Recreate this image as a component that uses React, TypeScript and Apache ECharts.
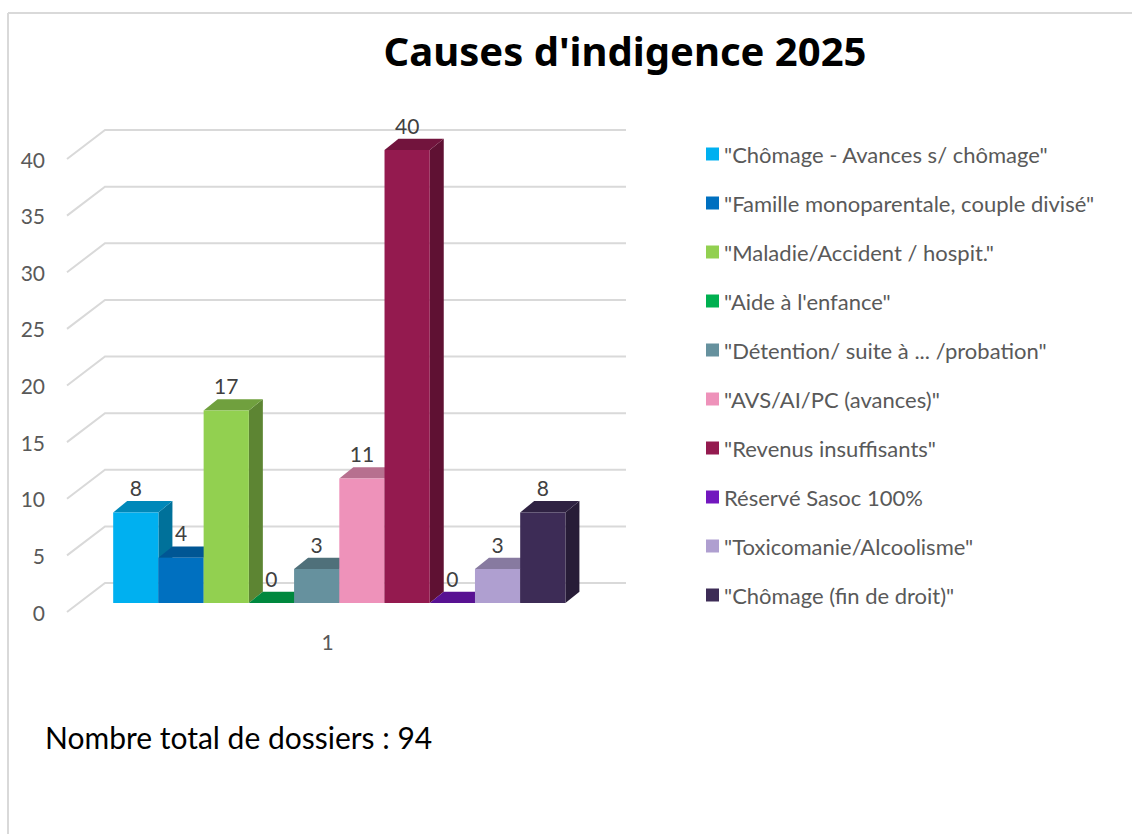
import React, { useEffect, useRef } from "react";
import * as echarts from "echarts";

const categories = ["1"];
const seriesNames = [
  "\"Chômage - Avances s/ chômage\"",
  "\"Famille monoparentale, couple divisé\"",
  "\"Maladie/Accident / hospit.\"",
  "\"Aide à l'enfance\"",
  "\"Détention/ suite à ... /probation\"",
  "\"AVS/AI/PC (avances)\"",
  "\"Revenus insuffisants\"",
  "Réservé Sasoc 100%",
  "\"Toxicomanie/Alcoolisme\"",
  "\"Chômage (fin de droit)\"",
];
const seriesValues = [8, 4, 17, 0, 3, 11, 40, 0, 3, 8];
const seriesColors = [
  "#00B0F0",
  "#0070C0",
  "#92D050",
  "#00B050",
  "#66919E",
  "#EE92BA",
  "#941A4F",
  "#7216BE",
  "#AF9FD0",
  "#3D2C56",
];
const yTicks = [0, 5, 10, 15, 20, 25, 30, 35, 40];
const titleText = "Causes d'indigence 2025";
const totalText = "Nombre total de dossiers : 94";

// 3D geometry (pixels)
const WALL_DX = 38;
const WALL_DY = 29;
const BAR_FX = 11.8;
const BAR_FY = 9;
const BAR_DX = 14;
const BAR_DY = 11.3;
const GROUP_FRAC = 0.868;

function shade(hex: string, k: number): string {
  const n = parseInt(hex.slice(1), 16);
  const r = Math.round(((n >> 16) & 255) * k);
  const g = Math.round(((n >> 8) & 255) * k);
  const b = Math.round((n & 255) * k);
  return "rgb(" + r + "," + g + "," + b + ")";
}

export default function App() {
  const ref = useRef<HTMLDivElement>(null);

  useEffect(() => {
    if (!ref.current) return;
    const chart = echarts.init(ref.current, undefined, { renderer: "svg" });
    const N = seriesValues.length;

    const gridSeries: any = {
      type: "custom",
      name: "__grid",
      silent: true,
      z: 1,
      data: yTicks.map((v) => [0, v]),
      renderItem: (params: any, api: any) => {
        const cs = params.coordSys;
        const y = api.coord([0, api.value(1)])[1];
        return {
          type: "polyline",
          shape: {
            points: [
              [cs.x, y],
              [cs.x + WALL_DX, y - WALL_DY],
              [cs.x + cs.width + WALL_DX, y - WALL_DY],
            ],
          },
          style: { stroke: "#d9d9d9", lineWidth: 2, fill: null },
        };
      },
    };

    const barSeries = seriesNames.map((name, i) => ({
      type: "custom",
      name,
      z: 2 + i,
      itemStyle: { color: seriesColors[i] },
      data: [[0, seriesValues[i]]],
      renderItem: (params: any, api: any) => {
        const v = api.value(1);
        const pTop = api.coord([0, v]);
        const pBase = api.coord([0, 0]);
        const band = api.size([1, 0])[0];
        const groupW = band * GROUP_FRAC;
        const bw = groupW / N;
        const x = pTop[0] - groupW / 2 + i * bw + BAR_FX;
        const yT = pTop[1] - BAR_FY;
        const yB = pBase[1] - BAR_FY;
        const c = seriesColors[i];
        return {
          type: "group",
          children: [
            {
              type: "polygon",
              shape: {
                points: [
                  [x + bw, yB],
                  [x + bw + BAR_DX, yB - BAR_DY],
                  [x + bw + BAR_DX, yT - BAR_DY],
                  [x + bw, yT],
                ],
              },
              style: { fill: shade(c, 0.64) },
            },
            {
              type: "polygon",
              shape: {
                points: [
                  [x, yT],
                  [x + BAR_DX, yT - BAR_DY],
                  [x + bw + BAR_DX, yT - BAR_DY],
                  [x + bw, yT],
                ],
              },
              style: { fill: shade(c, 0.77) },
            },
            {
              type: "rect",
              shape: { x, y: yT, width: bw, height: Math.max(0, yB - yT) },
              style: { fill: c },
            },
            {
              type: "text",
              x: x + bw / 2,
              y: yT - BAR_DY - 3,
              style: {
                text: String(v),
                textAlign: "center",
                textVerticalAlign: "bottom",
                fill: "#404040",
                fontSize: 21,
                fontFamily: "Lato",
              },
            },
          ],
        };
      },
    }));

    chart.setOption({
      animation: false,
      backgroundColor: "#ffffff",
      grid: { left: 67, top: 159, right: 544, bottom: 222, containLabel: false },
      xAxis: {
        type: "category",
        data: categories,
        axisLine: { show: false },
        axisTick: { show: false },
        splitLine: { show: false },
        axisLabel: { margin: 19, fontSize: 21, color: "#595959", fontFamily: "Lato" },
      },
      yAxis: {
        type: "value",
        min: 0,
        max: 40,
        interval: 5,
        axisLine: { show: false },
        axisTick: { show: false },
        splitLine: { show: false },
        axisLabel: { margin: 22, fontSize: 21, color: "#595959", fontFamily: "Lato" },
      },
      legend: {
        orient: "vertical",
        left: 706,
        top: 143,
        padding: 0,
        itemWidth: 13,
        itemHeight: 13,
        itemGap: 27,
        icon: "rect",
        data: seriesNames,
        textStyle: { fontSize: 22, color: "#595959", fontFamily: "Lato", lineHeight: 22 },
      },
      graphic: [
        {
          type: "line",
          shape: { x1: 8, y1: 13, x2: 8, y2: 834 },
          style: { stroke: "#d9d9d9", lineWidth: 2 },
        },
        {
          type: "line",
          shape: { x1: 8, y1: 13, x2: 1132, y2: 13 },
          style: { stroke: "#d9d9d9", lineWidth: 2 },
        },
        {
          type: "text",
          x: 625,
          y: 50,
          style: {
            text: titleText,
            textAlign: "center",
            textVerticalAlign: "middle",
            fontSize: 40,
            fontWeight: "bold",
            fontFamily: "Noto Sans",
            fill: "#000000",
          },
        },
        {
          type: "text",
          x: 45,
          y: 737,
          style: {
            text: totalText,
            textAlign: "left",
            textVerticalAlign: "middle",
            fontSize: 30,
            fontFamily: "Lato",
            fill: "#000000",
          },
        },
      ],
      series: [gridSeries, ...barSeries],
    });

    return () => {
      chart.dispose();
    };
  }, []);

  return (
    <div
      ref={ref}
      style={{ position: "absolute", left: 0, top: 0, width: 1132, height: 834 }}
    />
  );
}
